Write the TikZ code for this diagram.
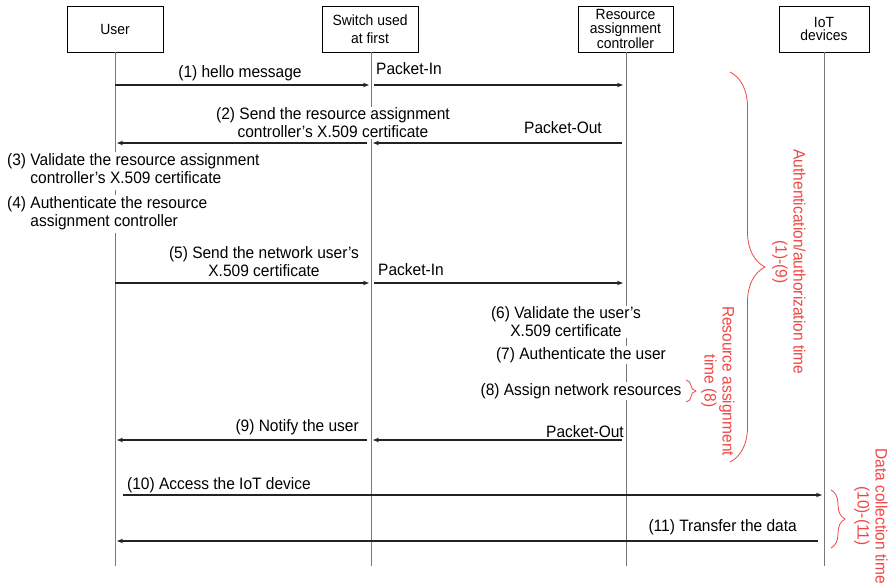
\documentclass[tikz,border=0pt]{standalone}
\usepackage{fontspec}
\setmainfont{Liberation Sans}[FakeStretch=0.94]
\usetikzlibrary{arrows.meta,decorations.pathreplacing}
\definecolor{timered}{RGB}{240,70,70}
\definecolor{lifegray}{RGB}{120,120,120}
\definecolor{msgblack}{RGB}{35,35,35}

\begin{document}
\begin{tikzpicture}[x=1pt,y=-1pt,
    font=\fontsize{16.5}{18}\selectfont,
    actor/.style={draw,line width=0.8pt,minimum height=46pt,align=center,inner sep=1pt,
      font=\fontsize{14.8}{13.5}\selectfont},
    life/.style={lifegray,line width=0.7pt},
    msg/.style={msgblack,line width=1.4pt,-{Stealth[length=6pt,width=4.5pt]}},
    lbl/.style={fill=white,inner sep=1pt},
    timebrace/.style={timered,line width=0.8pt,decorate,decoration={brace,amplitude=#1}},
    timelabel/.style={timered,rotate=-90,align=center,font=\fontsize{16.5}{18}\selectfont}]
  \useasboundingbox (0,0) rectangle (891,582);

  % participants
  \node[actor,minimum width=96pt] (user) at (115,29) {User};
  \node[actor,minimum width=96pt,font=\fontsize{14.8}{18}\selectfont] (switch) at (370,29) {Switch used\\at first};
  \node[actor,minimum width=95pt] (ctrl) at (625.5,29) {Resource\\assignment\\controller};
  \node[actor,minimum width=90pt] (iot) at (824,29) {IoT\\devices};

  % lifelines
  \coordinate (userend) at (115,566);
  \coordinate (switchend) at (371,566);
  \coordinate (ctrlend) at (626,566);
  \coordinate (iotend) at (824,566);
  \draw[life] (user.south -| userend) -- (userend);
  \draw[life] (switch.south -| switchend) -- (switchend);
  \draw[life] (ctrl.south -| ctrlend) -- (ctrlend);
  \draw[life] (iot.south -| iotend) -- (iotend);

  % one row of points per message
  \foreach \n/\y in {a/85,b/143,c/283,d/440,e/495,f/541} {
    \coordinate (u\n) at (115,\y);
    \coordinate (s\n) at (371,\y);
    \coordinate (r\n) at (626,\y);
    \coordinate (i\n) at (824,\y);
  }

  % (1) hello
  \node[lbl] (hello) at (240,73) {(1) hello message};
  \node[lbl,anchor=west] (pin1) at (375,69) {Packet-In};
  \draw[msg,shorten >=2pt] (ua) -- (sa);
  \draw[msg,shorten <=3pt,shorten >=3pt] (sa) -- (ra);

  % (2) controller certificate
  \node[lbl,align=center] (sendcert) at (333,123) {(2) Send the resource assignment\\controller's X.509 certificate};
  \node[lbl,anchor=east] (pout1) at (603,128) {Packet-Out};
  \draw[msg,shorten <=4pt,shorten >=2pt] (rb) -- (sb);
  \draw[msg,shorten <=4pt,shorten >=2pt] (sb) -- (ub);

  % (3), (4) at the user
  \node[lbl,anchor=west] (validate) at (6,171) {\begin{tabular}{@{}l@{ }l@{}}(3)&Validate the resource assignment\\&controller's X.509 certificate\end{tabular}};
  \node[lbl,anchor=west] (authctrl) at (6,214) {\begin{tabular}{@{}l@{ }l@{}}(4)&Authenticate the resource\\&assignment controller\end{tabular}};

  % (5) user certificate
  \node[lbl,align=center] (usercert) at (264,262) {(5) Send the network user's\\X.509 certificate};
  \node[lbl,anchor=west] (pin2) at (377,270) {Packet-In};
  \draw[msg,shorten >=2pt] (uc) -- (sc);
  \draw[msg,shorten <=3pt,shorten >=3pt] (sc) -- (rc);

  % (6)-(8) at the controller
  \node[lbl,align=center] (valuser) at (566,322) {(6) Validate the user's\\X.509 certificate};
  \node[lbl] (authuser) at (581,355) {(7) Authenticate the user};
  \node[lbl] (assign) at (581,391) {(8) Assign network resources};

  % (9) notify
  \node[lbl,anchor=east] (notify) at (360,427) {(9) Notify the user};
  \node[lbl,anchor=east] (pout2) at (625,432) {Packet-Out};
  \draw[msg,shorten <=4pt,shorten >=2pt] (rd) -- (sd);
  \draw[msg,shorten <=4pt,shorten >=2pt] (sd) -- (ud);

  % (10), (11) data
  \node[lbl,anchor=west] (access) at (126,485) {(10) Access the IoT device};
  \node[lbl,anchor=east] (transfer) at (798,527) {(11) Transfer the data};
  \draw[msg,shorten <=8pt,shorten >=2pt] (ue) -- (ie);
  \draw[msg,shorten <=6pt,shorten >=2pt] (if) -- (uf);

  % timing braces
  \coordinate (authtop) at (730,72);
  \coordinate (authbot) at (730,462);
  \draw[timebrace=35pt] (authtop) -- (authbot);
  \node[timelabel] (authtime) at (789,262) {Authentication/authorization time\\(1)-(9)};

  \coordinate (restop) at (686,380);
  \coordinate (resbot) at (686,402);
  \draw[timebrace=10pt] (restop) -- (resbot);
  \node[timelabel] (restime) at (718,381) {Resource assignment\\time (8)};

  \coordinate (datatop) at (831,490);
  \coordinate (databot) at (831,548);
  \draw[timebrace=14pt] (datatop) -- (databot);
  \node[timelabel] (datatime) at (871,516) {Data collection time\\(10)-(11)};
\end{tikzpicture}
\end{document}
